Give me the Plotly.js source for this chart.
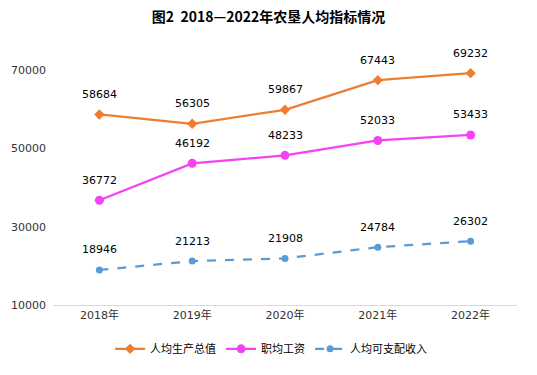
<!DOCTYPE html>
<html><head><meta charset="utf-8">
<script src="https://cdn.plot.ly/plotly-3.0.1.min.js"></script>
<style>body{margin:0;background:#fff}#c{width:537px;height:375px}</style>
</head><body><div id="c"></div>
<script>
var years = ['2018年','2019年','2020年','2021年','2022年'];
var gdpPerCapita = [58684, 56305, 59867, 67443, 69232];
var wagePerWorker = [36772, 46192, 48233, 52033, 53433];
var disposableIncome = [18946, 21213, 21908, 24784, 26302];
var seriesNames = ['人均生产总值','职均工资','人均可支配收入'];
var yTicks = [10000, 30000, 50000, 70000];
var yTickText = ['10000', '30000', '50000', '70000'];

var font = 'DejaVu Sans, Noto Sans CJK SC, sans-serif';
var traces = [
  {x: years, y: gdpPerCapita, name: seriesNames[0], mode: 'lines+markers',
   line: {color: '#ED7D31', width: 2.25}, marker: {symbol: 'diamond', size: 8, color: '#ED7D31'}},
  {x: years, y: wagePerWorker, name: seriesNames[1], mode: 'lines+markers',
   line: {color: '#F542F5', width: 2.25}, marker: {symbol: 'circle', size: 9, color: '#F542F5'}},
  {x: years, y: disposableIncome, name: seriesNames[2], mode: 'lines+markers',
   line: {color: '#5B9BD5', width: 2.25, dash: 'dash'}, marker: {symbol: 'circle', size: 7, color: '#5B9BD5'}}
];
var annotations = [];
[gdpPerCapita, wagePerWorker, disposableIncome].forEach(function(s){
  s.forEach(function(v, i){
    annotations.push({x: years[i], y: v, text: String(v), showarrow: false, yshift: 20,
      font: {family: font, size: 11, color: '#000'}});
  });
});
var layout = {
  width: 537, height: 375,
  margin: {l: 53, r: 20, t: 31, b: 68},
  paper_bgcolor: '#fff', plot_bgcolor: '#fff',
  title: {text: '<b>图2  2018—2022年农垦人均指标情况</b>', x: 0.5, xanchor: 'center', y: 0.955, yanchor: 'middle',
    font: {family: 'Noto Sans CJK SC, sans-serif', size: 14, color: '#000'}},
  xaxis: {type: 'category', range: [-0.5, 4.5], showgrid: false, showline: true, linecolor: '#d9d9d9', linewidth: 1,
    ticks: '', tickfont: {family: font, size: 11, color: '#333'}, zeroline: false},
  yaxis: {range: [10000, 80000], tickvals: yTicks, ticktext: yTickText, showgrid: false, showline: false, zeroline: false,
    ticks: '', tickfont: {family: font, size: 11, color: '#333'}, ticklabelstandoff: 6},
  showlegend: true,
  legend: {orientation: 'h', x: 0.47, xanchor: 'center', y: -0.16, yanchor: 'middle',
    font: {family: font, size: 11, color: '#000'}, itemwidth: 30, tracegroupgap: 0},
  annotations: annotations
};
Plotly.newPlot('c', traces, layout, {staticPlot: true});
</script></body></html>
